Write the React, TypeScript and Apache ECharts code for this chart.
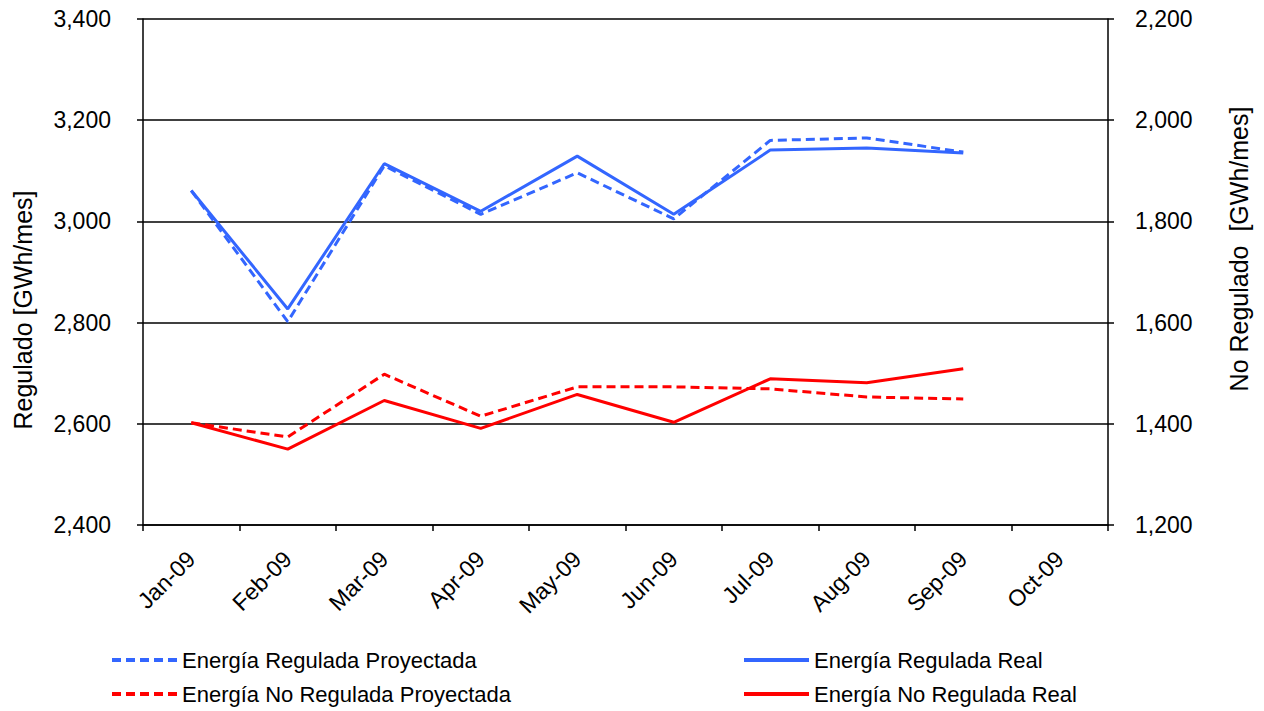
import { useEffect, useRef } from "react";
import * as echarts from "echarts";

const months = ["Jan-09", "Feb-09", "Mar-09", "Apr-09", "May-09", "Jun-09", "Jul-09", "Aug-09", "Sep-09", "Oct-09"];
const reguladaProyectada = [3061, 2802, 3110, 3014, 3096, 3005, 3160, 3165, 3137];
const reguladaReal = [3061, 2827, 3114, 3020, 3129, 3014, 3141, 3145, 3135];
const noReguladaProyectada = [1402, 1374, 1498, 1415, 1473, 1473, 1469, 1453, 1449];
const noReguladaReal = [1402, 1350, 1446, 1391, 1458, 1403, 1489, 1481, 1509];

const FONT = "Arial, 'Liberation Sans', sans-serif";
const BLUE = "#3366ff";
const RED = "#ff0000";

export default function App() {
  const ref = useRef<HTMLDivElement>(null);
  useEffect(() => {
    if (!ref.current) return;
    const chart = echarts.init(ref.current, undefined, { renderer: "svg" });
    const fmt = (v: number) => v.toLocaleString("en-US");
    const legendBase = {
      orient: "horizontal",
      itemWidth: 65,
      itemHeight: 14,
      itemStyle: { opacity: 0 },
      lineStyle: { width: 4 },
      textStyle: { fontFamily: FONT, fontSize: 22, color: "#000" },
      padding: 0,
    };
    const option = {
      animation: false,
      backgroundColor: "#fff",
      textStyle: { fontFamily: FONT },
      grid: { left: 143, right: 156, top: 19, bottom: 186, containLabel: false },
      xAxis: {
        type: "category",
        data: months,
        boundaryGap: true,
        axisLine: { lineStyle: { color: "#000", width: 1.5 } },
        axisTick: { show: true, length: 6, lineStyle: { color: "#000", width: 1.5 } },
        axisLabel: { rotate: 45, margin: 30, fontSize: 23, color: "#000", fontFamily: FONT, interval: 0 },
        splitLine: { show: false },
      },
      yAxis: [
        {
          type: "value",
          min: 2400,
          max: 3400,
          interval: 200,
          position: "left",
          axisLine: { show: true, lineStyle: { color: "#000", width: 1.5 } },
          axisTick: { show: true, length: 6, lineStyle: { color: "#000", width: 1.5 } },
          axisLabel: { margin: 32, fontSize: 23, color: "#000", fontFamily: FONT, formatter: fmt },
          splitLine: { show: true, lineStyle: { color: "#000", width: 1.5 } },
        },
        {
          type: "value",
          min: 1200,
          max: 2200,
          interval: 200,
          position: "right",
          axisLine: { show: true, lineStyle: { color: "#000", width: 1.5 } },
          axisTick: { show: true, length: 6, lineStyle: { color: "#000", width: 1.5 } },
          axisLabel: { margin: 27, fontSize: 23, color: "#000", fontFamily: FONT, formatter: fmt },
          splitLine: { show: false },
        },
      ],
      legend: [
        { ...legendBase, left: 110, top: 649, data: ["Energía Regulada Proyectada"] },
        { ...legendBase, left: 110, top: 683, data: ["Energía No Regulada Proyectada"] },
        { ...legendBase, left: 742, top: 649, data: ["Energía Regulada Real"] },
        { ...legendBase, left: 742, top: 683, data: ["Energía No Regulada Real"] },
      ],
      graphic: [
        {
          type: "text",
          x: 23,
          y: 310,
          rotation: Math.PI / 2,
          style: { text: "Regulado [GWh/mes]", font: `25px ${FONT}`, fill: "#000", textAlign: "center", textVerticalAlign: "middle" },
        },
        {
          type: "text",
          x: 1239,
          y: 249,
          rotation: Math.PI / 2,
          style: { text: "No Regulado  [GWh/mes]", font: `25px ${FONT}`, fill: "#000", textAlign: "center", textVerticalAlign: "middle" },
        },
      ],
      series: [
        {
          name: "Energía Regulada Proyectada",
          type: "line",
          yAxisIndex: 0,
          data: reguladaProyectada,
          symbol: "none",
          itemStyle: { color: BLUE },
          lineStyle: { color: BLUE, width: 3, type: [9, 5] },
          z: 3,
        },
        {
          name: "Energía Regulada Real",
          type: "line",
          yAxisIndex: 0,
          data: reguladaReal,
          symbol: "none",
          itemStyle: { color: BLUE },
          lineStyle: { color: BLUE, width: 3 },
          z: 2,
        },
        {
          name: "Energía No Regulada Proyectada",
          type: "line",
          yAxisIndex: 1,
          data: noReguladaProyectada,
          symbol: "none",
          itemStyle: { color: RED },
          lineStyle: { color: RED, width: 3, type: [9, 5] },
          z: 3,
        },
        {
          name: "Energía No Regulada Real",
          type: "line",
          yAxisIndex: 1,
          data: noReguladaReal,
          symbol: "none",
          itemStyle: { color: RED },
          lineStyle: { color: RED, width: 3 },
          z: 2,
        },
      ],
    } as echarts.EChartsOption;
    chart.setOption(option);
    const onResize = () => chart.resize();
    window.addEventListener("resize", onResize);
    return () => {
      window.removeEventListener("resize", onResize);
      chart.dispose();
    };
  }, []);
  return (
    <div
      ref={ref}
      style={{ position: "fixed", left: 0, top: 0, width: 1264, height: 711, background: "#fff" }}
      aria-label="Energía regulada y no regulada"
    />
  );
}
